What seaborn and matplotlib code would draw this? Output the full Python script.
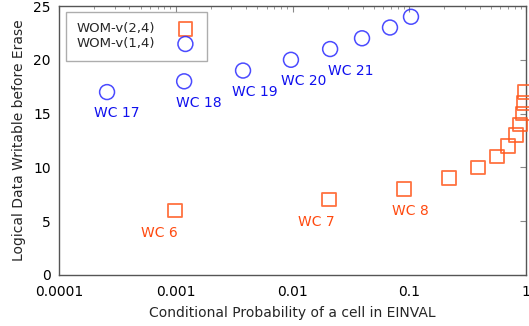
import matplotlib
matplotlib.use("Agg")
import matplotlib.pyplot as plt
import matplotlib.ticker as mticker
import seaborn as sns
import numpy as np
import pandas as pd

# WOM-v(2,4) points (squares)
prob_24 = [0.00099, 0.0205, 0.090, 0.219, 0.388, 0.562, 0.70, 0.82, 0.889, 0.944, 0.962, 0.979]
data_24 = [6, 7, 8, 9, 10, 11, 12, 13, 14, 15, 16, 17]
labels_24 = ["WC 6", "WC 7", "WC 8"]

# WOM-v(1,4) points (circles)
prob_14 = [0.000258, 0.00118, 0.00377, 0.0097, 0.0210, 0.0394, 0.0684, 0.1035]
data_14 = [17, 18, 19, 20, 21, 22, 23, 24]
labels_14 = ["WC 17", "WC 18", "WC 19", "WC 20", "WC 21"]

x_ticks = [0.0001, 0.001, 0.01, 0.1, 1]
x_ticklabels = ["0.0001", "0.001", "0.01", "0.1", "1"]
y_ticks = [0, 5, 10, 15, 20, 25]

orange = "#ff5a1f"
blue = "#2b2bff"

sns.set_style("white")
plt.rcParams["font.family"] = ["DejaVu Sans"]

fig, ax = plt.subplots(figsize=(5.29, 3.26), dpi=100)
fig.subplots_adjust(left=59 / 529, right=526 / 529, bottom=1 - 275 / 326, top=1 - 6 / 326)

df24 = pd.DataFrame({"p": prob_24, "d": data_24})
df14 = pd.DataFrame({"p": prob_14, "d": data_14})

sns.scatterplot(data=df24, x="p", y="d", ax=ax, marker="s", s=95,
                facecolor="none", edgecolor=orange, linewidth=1.3, alpha=0.85,
                label="WOM-v(2,4)", clip_on=False, zorder=3)
sns.scatterplot(data=df14, x="p", y="d", ax=ax, marker="o", s=115,
                facecolor="none", edgecolor=blue, linewidth=1.1, alpha=0.85,
                label="WOM-v(1,4)", clip_on=False, zorder=3)

# label offsets in pixels relative to the marker
off_24 = [(-16, -23), (-13, -22), (6, -22)]
off_14 = [(10, -21), (15, -22), (12, -21), (13, -21), (21, -22)]
for lab, x, y, (dx, dy) in zip(labels_24, prob_24, data_24, off_24):
    ax.annotate(lab, (x, y), xytext=(dx * 0.72, dy * 0.72), textcoords="offset points",
                ha="center", va="center", color="#ff4a10", fontsize=10)
for lab, x, y, (dx, dy) in zip(labels_14, prob_14, data_14, off_14):
    ax.annotate(lab, (x, y), xytext=(dx * 0.72, dy * 0.72), textcoords="offset points",
                ha="center", va="center", color="#1010ee", fontsize=10)

ax.set_xscale("log")
ax.set_xlim(0.0001, 1)
ax.set_ylim(0, 25)
ax.set_xticks(x_ticks)
ax.set_xticklabels(x_ticklabels)
ax.set_yticks(y_ticks)
ax.xaxis.set_minor_locator(mticker.LogLocator(base=10, subs=np.arange(2, 10)))
ax.xaxis.set_minor_formatter(mticker.NullFormatter())

ax.tick_params(axis="both", which="both", direction="in", top=True, right=True,
               colors="#888888", labelcolor="black", labelsize=10)
ax.tick_params(axis="both", which="major", length=4)
ax.tick_params(axis="x", which="minor", length=2.5)
ax.tick_params(axis="x", pad=7)
ax.tick_params(axis="y", pad=6)

for sp in ax.spines.values():
    sp.set_color("#555555")
    sp.set_linewidth(1.0)

ax.set_xlabel("Conditional Probability of a cell in EINVAL", fontsize=10, labelpad=5)
ax.set_ylabel("Logical Data Writable before Erase", fontsize=10, labelpad=5)

leg = ax.legend(loc="upper left", bbox_to_anchor=(0.015, 0.978), borderaxespad=0,
                markerfirst=False, fancybox=False, frameon=True, fontsize=9.5,
                handletextpad=1.5, handlelength=1.6, borderpad=0.8, labelspacing=0.15)
leg.get_frame().set_edgecolor("#999999")
leg.get_frame().set_linewidth(1.0)

fig.savefig("out.png", dpi=100)
